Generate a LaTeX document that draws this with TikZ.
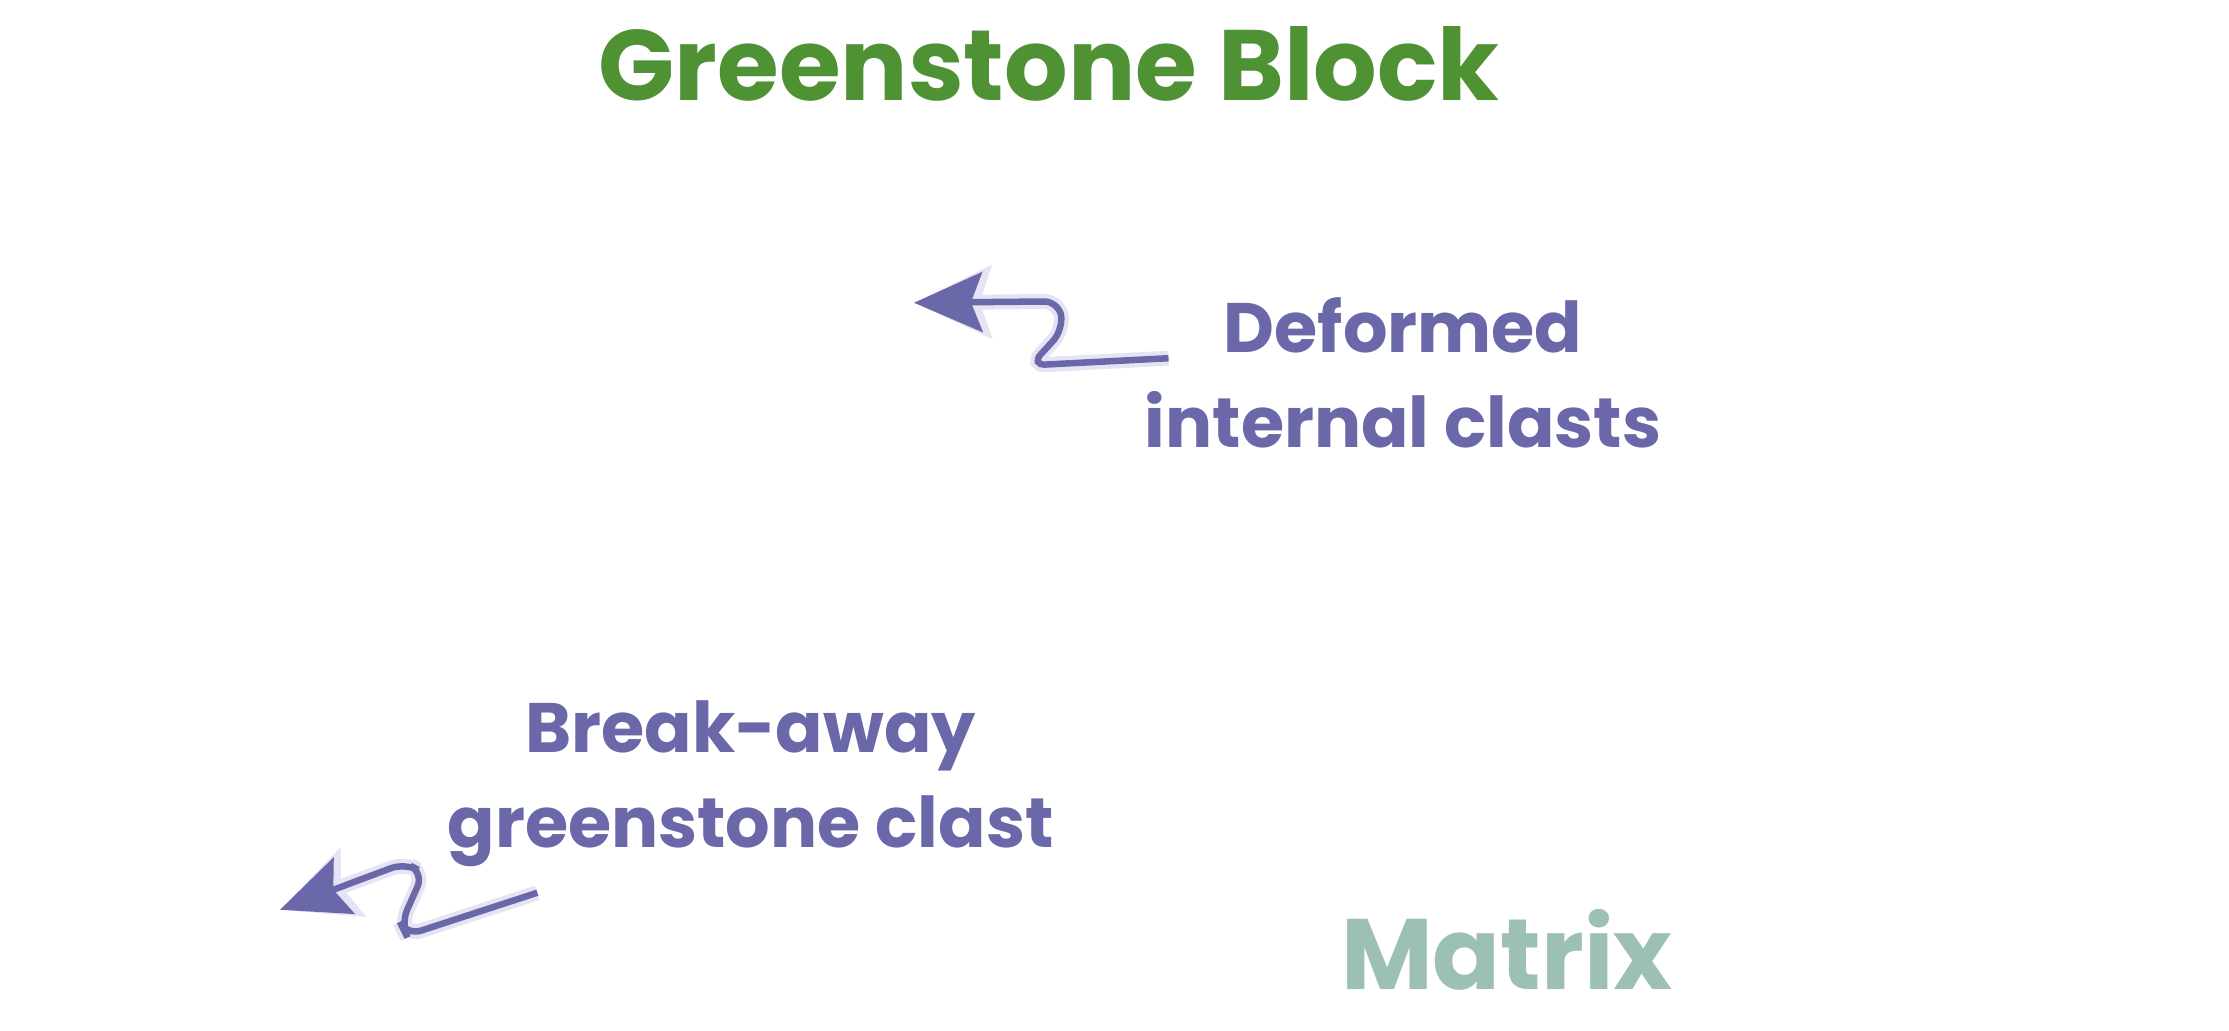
\documentclass[tikz,border=0pt]{standalone}
\usepackage{fontspec}
\setmainfont{Poppins}[BoldFont={* Bold}]
\usepackage[outline]{contour}
\contourlength{1.2pt}
\usetikzlibrary{arrows.meta}
\definecolor{gr}{HTML}{4F9233}
\definecolor{pu}{HTML}{6B68AA}
\definecolor{mt}{HTML}{9CC0B4}
\definecolor{halo}{HTML}{E6E4F4}
\tikzset{
 lbl/.style={font=\bfseries\fontsize{14}{19}\selectfont,text=pu,align=center},
 ptr/.style={draw=pu,line width=1.3pt,-{Stealth[length=0.48cm,width=0.42cm,inset=0.08cm]},rounded corners=3pt},
 ptrhalo/.style={draw=halo,line width=3pt,-{Stealth[length=0.54cm,width=0.5cm,inset=0.08cm]},rounded corners=3pt}
}
\begin{document}
\begin{tikzpicture}[x=0.01cm,y=-0.01cm]
\useasboundingbox (0,0) rectangle (1568,725);
\node[font=\bfseries\fontsize{20}{24}\selectfont,text=gr] (title) at (738,45) {\contour{halo}{Greenstone Block}};
\node[lbl] (def) at (987,262) {\contour{halo}{Deformed}\\\contour{halo}{internal clasts}};
\node[lbl] (brk) at (528,551) {\contour{halo}{Break-away}\\\contour{halo}{greenstone clast}};
\node[font=\bfseries\fontsize{20}{24}\selectfont,text=mt] (mat) at (1060,668) {\contour{halo}{Matrix}};
\coordinate (a0) at (822,252);
\coordinate (a1) at (643,213);
\coordinate (b0) at (378,628);
\coordinate (b1) at (197,640);
\foreach \s in {ptrhalo,ptr}{
 \draw[\s] (a0) -- (725,257) -- (748,232) -- (745,212) -- (a1);
 \draw[\s] (b0) -- (286,658) -- (282,650) -- (298,614) -- (285,607) -- (b1);
}
\end{tikzpicture}
\end{document}
